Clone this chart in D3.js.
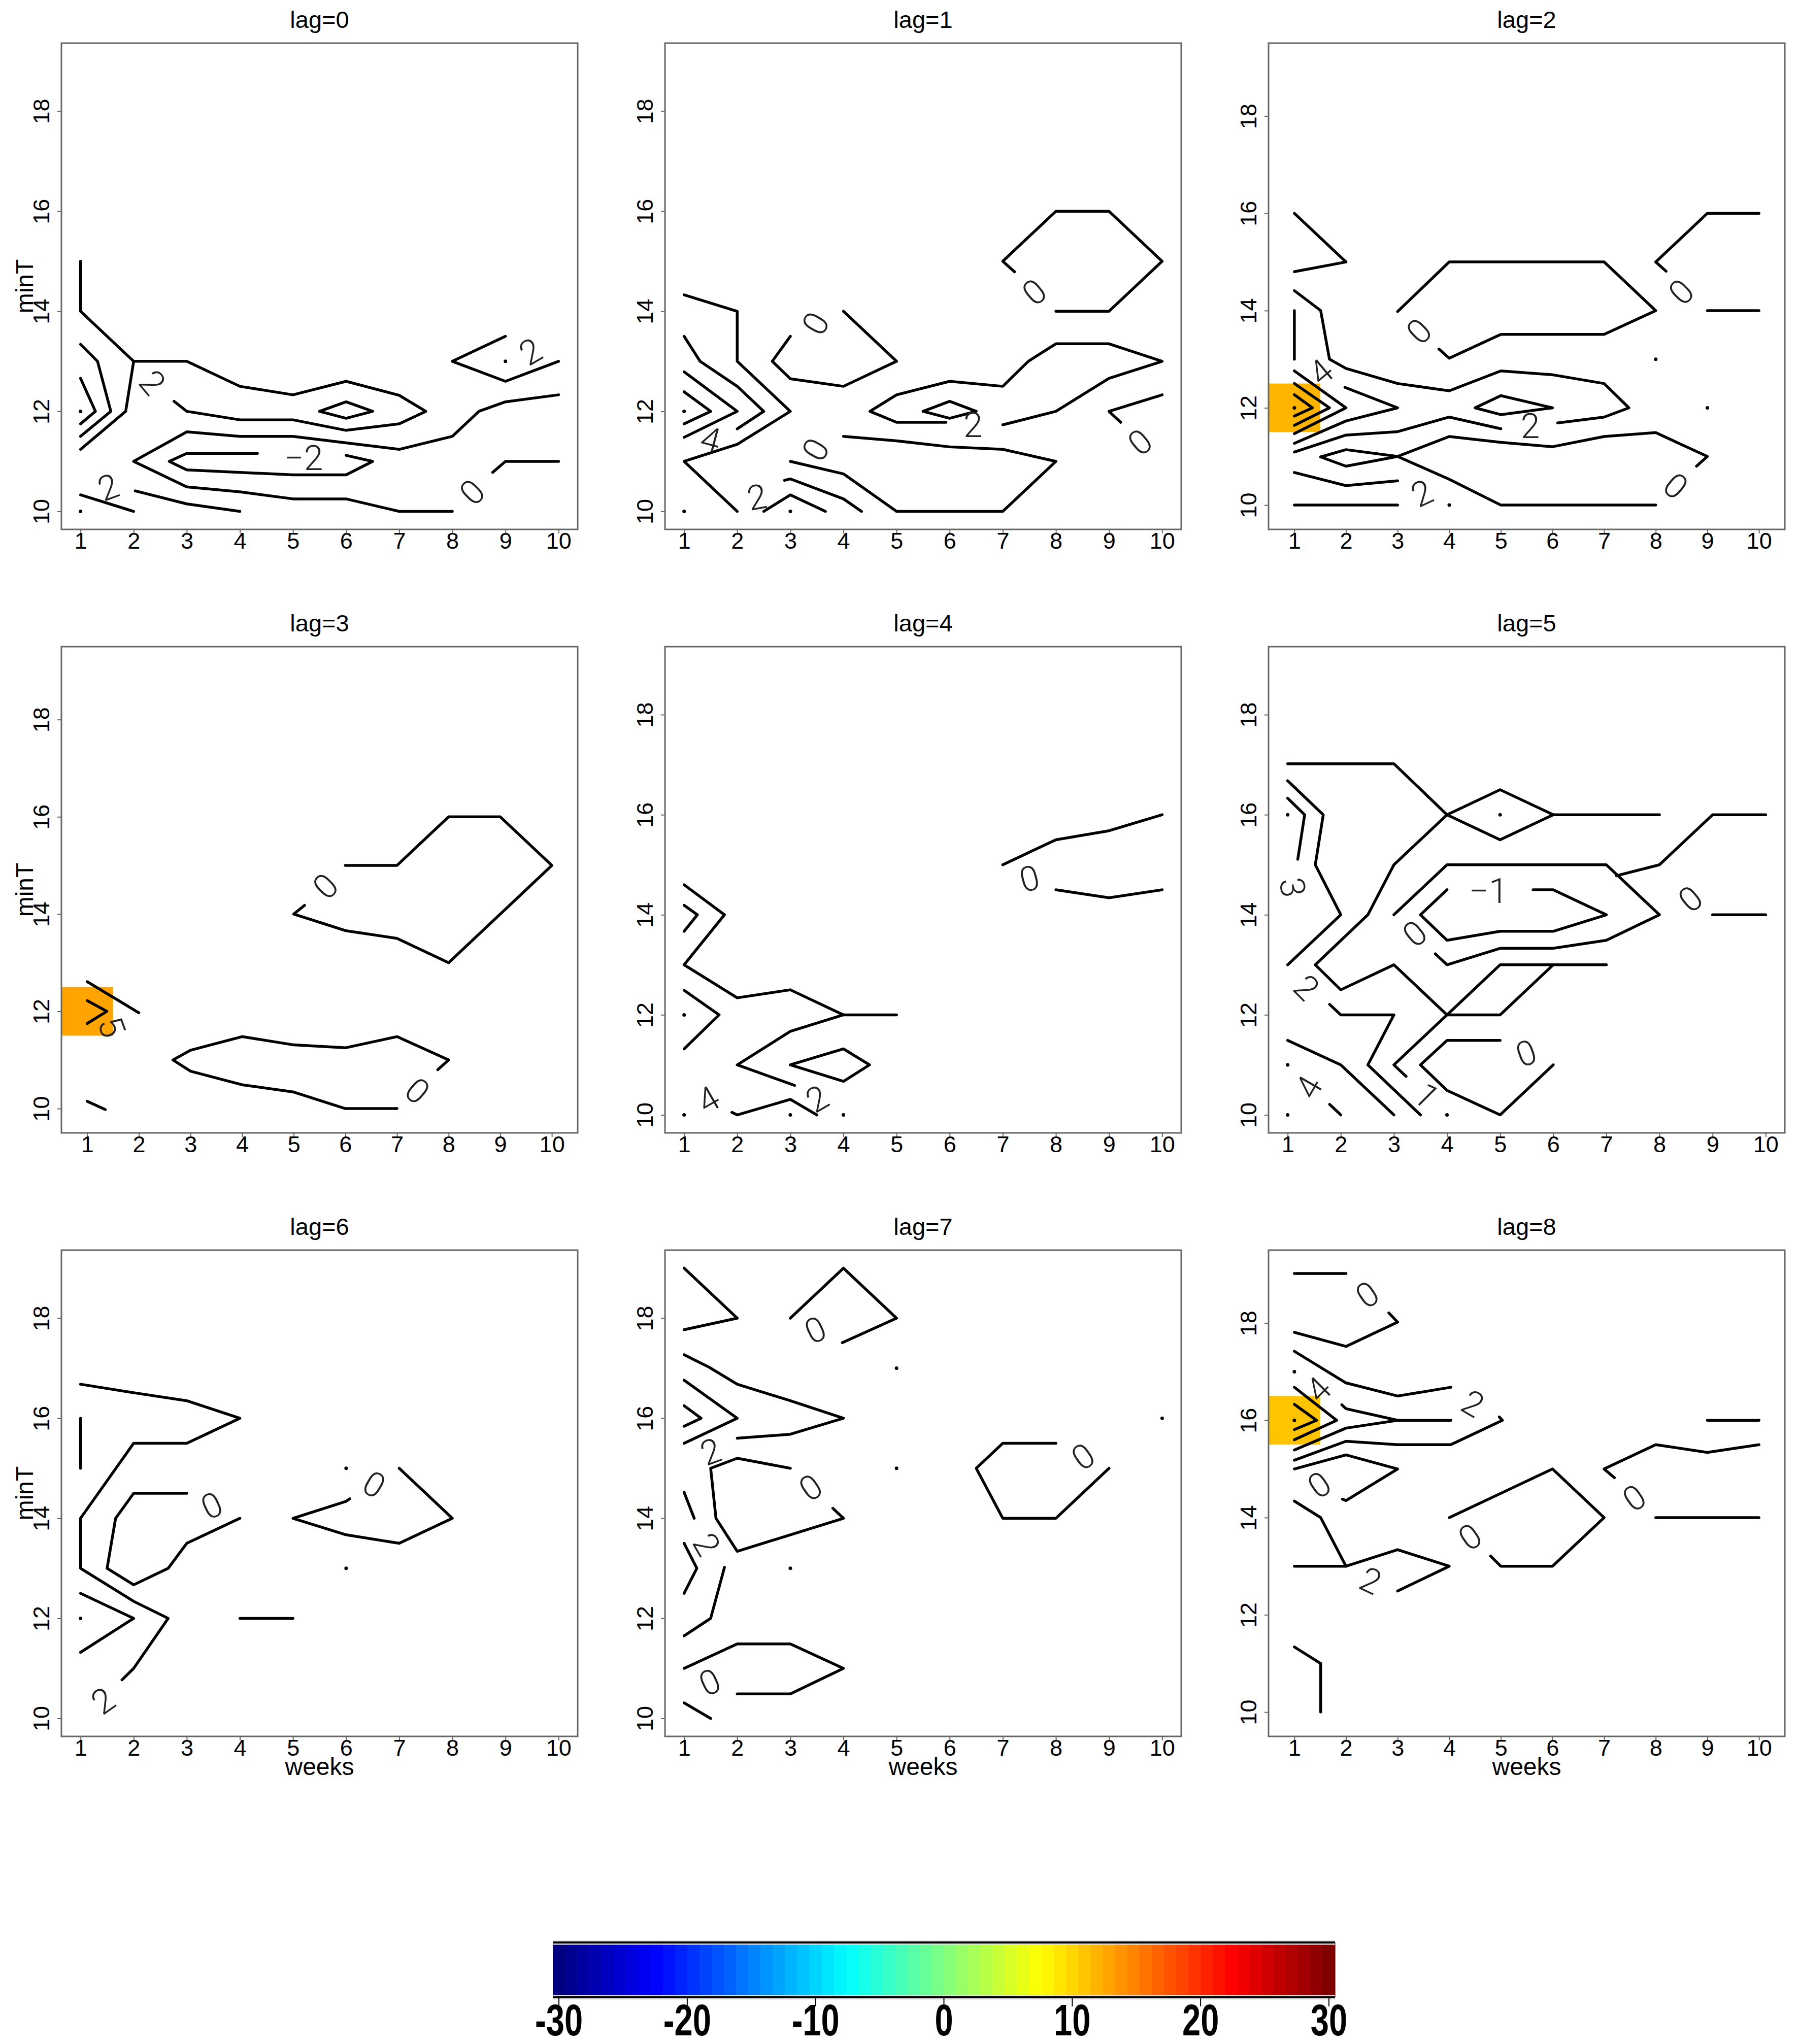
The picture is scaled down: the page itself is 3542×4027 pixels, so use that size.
<!DOCTYPE html>
<html>
<head>
<meta charset="utf-8">
<script src="https://cdn.jsdelivr.net/npm/d3@7"></script>
<style>
  body { margin: 0; background: #fff; }
  text { font-family: "Liberation Sans", Arial, Helvetica, sans-serif; }
</style>
</head>
<body>
<div id="chart"></div>
<script>
const W = 3542, H = 4027;

const lags = [0, 1, 2, 3, 4, 5, 6, 7, 8];
const weekTicks = [1, 2, 3, 4, 5, 6, 7, 8, 9, 10];
const minTTicks = [10, 12, 14, 16, 18];
const colorTicks = [-30, -20, -10, 0, 10, 20, 30];
const colorLimits = [-30, 30];
const nColors = 64;

// contour pieces per lag, points are [weeks, minT]
const lines0 = [
  [[1,15],[1,14],[2,13],[1.85,12],[1,11.24]],
  [[2,13],[3,13],[4,12.5],[5,12.33],[6,12.6],[7,12.32],[7.5,12],[7,11.75],[6,11.62],[5,11.83],[4,11.83],[3,12],[2.76,12.2]],
  [[5.5,12],[6,12.19],[6.5,12],[6,11.86],[5.5,12]],
  [[1,13.34],[1.32,13],[1.57,12],[1,11.5]],
  [[1,12.66],[1.28,12],[1,11.75]],
  [[10,12.33],[9,12.19],[8.5,12],[8,11.5],[7,11.24],[6,11.37],[5,11.5],[4,11.5],[3,11.59],[2,11],[3,10.49],[4,10.39],[5,10.25],[6,10.25],[7,10],[8,10]],
  [[4.33,11.16],[3,11.16],[2.67,11],[3,10.83],[5,10.73],[6,10.73],[6.5,11],[6,11.12]],
  [[9,13.5],[8,13],[9,12.6],[10,13]],
  [[8.76,10.78],[9,11],[10,11]],
  [[1,10.33],[2,10]],
  [[2.03,10.41],[3,10.15],[4,10]]
];
const dots0 = [[1,12],[1,10],[9,13]];
const labels0 = [[2.36,12.58,"2",50],[5.2,11.08,"−2",0],[9.47,13.2,"2",-30],[8.37,10.39,"0",-45],[1.52,10.49,"2",-20]];

const lines1 = [
  [[1,13.5],[1.3,13],[2,12.5],[2.5,12],[2,11.65]],
  [[1,12.79],[2,12],[1,11.48]],
  [[1,12.39],[1.5,12],[1,11.75]],
  [[1,14.33],[2,14],[2,13],[3,12],[2,11.34],[1,11],[2,10]],
  [[3,13.5],[2.66,13],[3,12.65],[4,12.5],[5,13],[4,14]],
  [[7.22,14.79],[7,15],[8,16],[9,16],[10,15],[9,14],[8,14]],
  [[5.93,11.78],[5,11.78],[4.5,12],[5,12.33],[6,12.6],[7,12.5],[7.48,13],[8,13.35],[9,13.35],[10,13],[9,12.66],[8,12],[7,11.73]],
  [[5.5,12],[6,12.2],[6.5,12],[6,11.86],[5.5,12]],
  [[10,12.33],[9,12],[9.22,11.78]],
  [[3,11],[4,10.75],[5,10],[7,10],[8,11],[7,11.24],[6,11.29],[5,11.41],[4,11.5]],
  [[2.89,10.62],[3,10.65],[4,10.25],[4.34,10]],
  [[2.5,10],[3,10.33],[3.66,10]]
];
const dots1 = [[1,12],[1,10],[3,10]];
const labels1 = [[7.59,14.39,"0",-40],[3.47,13.76,"0",-60],[6.44,11.73,"2",0],[9.58,11.39,"0",-40],[3.47,11.24,"0",-60],[2.37,10.29,"2",-10],[1.5,11.44,"4",15]];

const lines2 = [
  [[1,16],[2,15],[1,14.8]],
  [[1,14.41],[1.51,14],[1.68,13],[2,12.81],[3,12.5],[4,12.35],[5,12.76],[6,12.68],[7,12.5],[7.48,12],[7,11.81],[6.1,11.69]],
  [[1,11.09],[2,11.44],[3,11.51],[4,11.81],[5,11.57]],
  [[1,14],[1,13]],
  [[3,13.98],[4,15],[7,15],[8,14],[7,13.51],[5,13.51],[4,13.02],[3.8,13.21]],
  [[8.2,14.81],[8,15],[9,16],[10,16]],
  [[9,14],[10,14]],
  [[1,12.27],[1.35,12],[1,11.83]],
  [[1,12.5],[1.68,12],[1,11.64]],
  [[1,12.76],[2,12],[1,11.47]],
  [[1.98,12.42],[3,12],[2,11.73],[1,11.27]],
  [[4.5,12],[5,12.25],[6,12],[5,11.86],[4.5,12]],
  [[1.51,10.99],[2,11.14],[3,11],[4,11.41],[5,11.29],[6,11.2],[7,11.41],[8,11.49],[9,11],[8.79,10.8]],
  [[1.51,10.99],[2,10.8],[3,11],[4,10.53],[5,10],[8,10]],
  [[1,10.67],[2,10.4],[3,10.5]],
  [[1,10],[3,10]]
];
const dots2 = [[1,12],[4,10],[8,13],[9,12]];
const labels2 = [[3.41,13.58,"0",-45],[8.49,14.39,"0",-45],[5.57,11.63,"2",0],[1.51,12.74,"4",-40],[8.39,10.4,"0",40],[3.47,10.25,"2",-25]];
const cells2 = [[1,12,12]];

const lines3 = [
  [[6,15],[7,15],[8,16],[9,16],[10,15],[8,13],[7,13.5],[6,13.66],[5,14],[5.21,14.18]],
  [[1,12.61],[2,11.97]],
  [[1,12.22],[1.38,12],[1,11.75]],
  [[7.79,10.8],[8,11],[7,11.48],[6,11.25],[5,11.31],[4,11.48],[3,11.2],[2.66,11],[3,10.77],[4,10.49],[5,10.34],[6,10],[7,10]],
  [[1,10.15],[1.35,9.98]]
];
const dots3 = [];
const labels3 = [[5.61,14.58,"0",-45],[7.4,10.37,"0",40],[1.48,11.68,"5",70]];
const cells3 = [[1,12,13]];

const lines4 = [
  [[7,15],[8,15.5],[9,15.68],[10,16]],
  [[8,14.5],[9,14.34],[10,14.5]],
  [[1,14.6],[1.76,14],[1,13],[2,12.34],[3,12.5],[4,12],[5,12]],
  [[1,14.19],[1.25,14],[1,13.67]],
  [[1,12.49],[1.66,12],[1,11.32]],
  [[4,12],[3,11.67],[2,11],[3.08,10.59]],
  [[3,11],[4,11.32],[4.49,11],[4,10.67],[3,11]],
  [[1.9,10.05],[2,10],[3,10.31],[3.5,10]]
];
const dots4 = [[1,12],[1,10],[3,10],[4,10]];
const labels4 = [[7.5,14.73,"0",-15],[1.45,10.31,"4",-30],[3.5,10.33,"2",-30]];

const lines5 = [
  [[1,17.02],[3,17.02],[4,16],[5,16.5],[6,16],[8,16]],
  [[4,16],[5,15.5],[6,16]],
  [[4,16],[3,15],[2.51,14],[1.52,13],[2,12.5],[3,13],[4,12],[5,12],[6,13]],
  [[3.23,10.77],[3,11],[4,12],[5,13],[7,13]],
  [[1,16.68],[1.67,16],[1.52,15],[2,14],[1,13]],
  [[1,16.33],[1.32,16],[1.19,15.11]],
  [[1.79,12.21],[2,12],[3,12],[2.51,11],[3.5,10]],
  [[1,11.49],[2,11],[3,10]],
  [[1.79,10.21],[2,10]],
  [[5,11.49],[4,11.49],[3.5,11],[4,10.49],[5,10],[6,11]],
  [[3,14],[4,15],[7,15],[8,14],[7,13.49],[6,13.33],[5,13.33],[4,13],[3.78,13.22]],
  [[5.62,14.5],[6,14.5],[7,14],[6,13.67],[5,13.67],[4,13.49],[3.5,14],[4,14.5]],
  [[7.19,14.78],[8,15],[9,16],[10,16]],
  [[9,14],[10,14]]
];
const dots5 = [[1,16],[5,16],[1,11],[1,10],[4,10]];
const labels5 = [[1.1,14.55,"3",80],[1.36,12.55,"2",45],[1.39,10.56,"4",-60],[3.62,10.39,"1",45],[5.49,11.24,"0",-20],[3.39,13.63,"0",-40],[4.78,14.48,"−1",0],[8.58,14.32,"0",-40]];

const lines6 = [
  [[1,16.68],[2,16.51],[3,16.35],[4,16],[3,15.5],[2,15.5],[1,14],[1,13],[2,12.34],[2.65,12],[2,11],[1.78,10.77]],
  [[1,16],[1,15]],
  [[3,14.5],[2,14.5],[1.66,14],[1.5,13],[2,12.67],[2.65,13],[3,13.5],[4,14]],
  [[1,12.5],[2,12],[1,11.32]],
  [[4,12],[5,12]],
  [[6.07,14.39],[6,14.34],[5,14],[6,13.67],[7,13.5],[8,14],[7,15]]
];
const dots6 = [[1,12],[6,15],[6,13]];
const labels6 = [[1.42,10.36,"2",-35],[3.47,14.26,"0",-25],[6.53,14.68,"0",30]];

const lines7 = [
  [[1,19],[2,18],[1,17.77]],
  [[3,18],[4,19],[5,18],[3.98,17.51]],
  [[1,17.27],[1.47,17.02],[2,16.68],[3,16.35],[4,16],[3,15.68],[2,15.6]],
  [[1,16.76],[2,16],[1,15.5]],
  [[1,16.25],[1.32,16],[1,15.84]],
  [[3,15],[2,15.2],[1.5,15],[1.6,14],[2,13.34],[4,14],[3.8,14.2]],
  [[1,14.52],[1.19,14]],
  [[1,13.5],[1.24,13],[1,12.5]],
  [[1.76,13.02],[1.5,12],[1,11.65]],
  [[1,11],[2,11.49],[3,11.49],[4,11],[3,10.49],[2,10.49]],
  [[1,10.31],[1.5,10]],
  [[8,15.5],[7,15.5],[6.5,15],[7,14],[8,14],[9,15]]
];
const dots7 = [[5,17],[5,15],[3,13],[10,16]];
const labels7 = [[3.47,17.77,"0",-25],[1.5,15.34,"2",-20],[3.38,14.62,"0",-35],[1.43,13.48,"2",60],[1.48,10.73,"0",-25],[8.51,15.24,"0",-35]];

const lines8 = [
  [[1,19.02],[2,19.02]],
  [[2.83,18.21],[3,18.02],[2,17.52],[1,17.81]],
  [[1,17.42],[2,16.77],[3,16.5],[4.03,16.68]],
  [[1,16.68],[1.82,16],[1,15.6]],
  [[1,16.33],[1.43,16],[1,15.81]],
  [[1.92,16.32],[2,16.24],[3,16],[4.03,16]],
  [[3,16],[2,15.84],[1,15.39]],
  [[1,15.18],[2,15.57],[3,15.5],[4.03,15.5],[5.03,16],[4.97,16.07]],
  [[1,15],[2,15.29],[3,15],[2,14.35],[1.93,14.38]],
  [[1,14.34],[1.51,14],[2,13]],
  [[1,13],[2,13],[3,13.34],[4,13],[3,12.49]],
  [[4,14],[6,15],[7,14],[6,13],[5,13],[4.8,13.21]],
  [[7.2,14.82],[7,15],[8,15.5],[9,15.34],[10,15.5]],
  [[8,14],[10,14]],
  [[9,16],[10,16]],
  [[1,11.34],[1.51,11],[1.51,10]]
];
const dots8 = [[1,17],[1,16]];
const labels8 = [[2.41,18.59,"0",-35],[1.46,16.64,"4",-45],[4.46,16.35,"2",30],[1.48,14.68,"0",-35],[4.4,13.61,"0",-35],[7.58,14.41,"0",-35],[2.48,12.71,"2",25]];
const cells8 = [[1,16,10.5]];

const panelLines = [lines0, lines1, lines2, lines3, lines4, lines5, lines6, lines7, lines8];
const panelDots = [dots0, dots1, dots2, dots3, dots4, dots5, dots6, dots7, dots8];
const panelLabels = [labels0, labels1, labels2, labels3, labels4, labels5, labels6, labels7, labels8];
const panelCells = [[], [], cells2, cells3, [], [], [], [], cells8];

// layout
const colLeft = [121, 1310, 2499];
const rowTop = [85, 1274, 2463];
const pw = 1017, ph = 958;

// matlab-like jet palette
function jet(t) {
  const c = v => Math.max(0, Math.min(1, v));
  return d3.rgb(255 * c(1.5 - Math.abs(4 * t - 3)),
                255 * c(1.5 - Math.abs(4 * t - 2)),
                255 * c(1.5 - Math.abs(4 * t - 1))).formatHex();
}
const jetColors = d3.range(nColors).map(i => jet(i / (nColors - 1)));
const colorOf = v => {
  const i = Math.round((v - colorLimits[0]) / (colorLimits[1] - colorLimits[0]) * (nColors - 1));
  return jetColors[Math.max(0, Math.min(nColors - 1, i))];
};

const svg = d3.select("#chart").append("svg")
  .attr("width", W).attr("height", H)
  .style("background", "#fff");

lags.forEach((lag, i) => {
  const col = i % 3, row = Math.floor(i / 3);
  const cells = panelCells[i];
  const pad = cells.length ? 0.5 : 0.36;   // image() uses exact cell edges
  const x = d3.scaleLinear().domain([1 - pad, 10 + pad]).range([0, pw]);
  const y = d3.scaleLinear().domain([10 - pad, 19 + pad]).range([ph, 0]);

  const g = svg.append("g").attr("transform", `translate(${colLeft[col]},${rowTop[row]})`);

  g.append("clipPath").attr("id", "clip" + i)
    .append("rect").attr("width", pw).attr("height", ph);
  const plot = g.append("g").attr("clip-path", `url(#clip${i})`);

  plot.selectAll("rect.cell")
    .data(cells)
    .enter().append("rect")
    .attr("class", "cell")
    .attr("x", d => x(d[0] - 0.5))
    .attr("y", d => y(d[1] + 0.5))
    .attr("width", d => x(d[0] + 0.5) - x(d[0] - 0.5))
    .attr("height", d => y(d[1] - 0.5) - y(d[1] + 0.5))
    .attr("fill", d => colorOf(d[2]));

  const line = d3.line().x(d => x(d[0])).y(d => y(d[1]));
  plot.selectAll("path.contour")
    .data(panelLines[i])
    .enter().append("path")
    .attr("class", "contour")
    .attr("d", line)
    .attr("fill", "none")
    .attr("stroke", "#000")
    .attr("stroke-width", 5.5)
    .attr("stroke-linejoin", "round")
    .attr("stroke-linecap", "round");

  plot.selectAll("circle.dot")
    .data(panelDots[i])
    .enter().append("circle")
    .attr("class", "dot")
    .attr("cx", d => x(d[0]))
    .attr("cy", d => y(d[1]))
    .attr("r", 3.5)
    .attr("fill", "#000");

  plot.selectAll("text.lab")
    .data(panelLabels[i])
    .enter().append("text")
    .attr("class", "lab")
    .attr("transform", d => `translate(${x(d[0])},${y(d[1])}) rotate(${d[3]})`)
    .attr("text-anchor", "middle")
    .attr("dy", "0.36em")
    .style("font-family", "Roboto, 'Liberation Sans', sans-serif")
    .style("font-weight", 300)
    .style("font-size", "68px")
    .attr("fill", "#222")
    .text(d => d[2]);

  // box
  g.append("rect")
    .attr("width", pw).attr("height", ph)
    .attr("fill", "none")
    .attr("stroke", "#666")
    .attr("stroke-width", 3);

  // axes
  const xa = g.append("g").attr("transform", `translate(0,${ph})`)
    .call(d3.axisBottom(x).tickValues(weekTicks).tickSize(8).tickSizeOuter(0));
  xa.select(".domain").remove();
  xa.selectAll("line").attr("stroke", "#666").attr("stroke-width", 2);
  xa.selectAll("text")
    .attr("y", 6).attr("dy", "0.71em")
    .attr("fill", "#000")
    .style("font-size", "45px")
    .style("font-family", "'Liberation Sans', Arial, sans-serif");

  const ya = g.append("g")
    .call(d3.axisLeft(y).tickValues(minTTicks).tickSize(8).tickSizeOuter(0));
  ya.select(".domain").remove();
  ya.selectAll("line").attr("stroke", "#666").attr("stroke-width", 2);
  ya.selectAll("text")
    .attr("transform", "rotate(-90)")
    .attr("x", 0).attr("y", -24).attr("dy", 0)
    .attr("text-anchor", "middle")
    .attr("fill", "#000")
    .style("font-size", "45px")
    .style("font-family", "'Liberation Sans', Arial, sans-serif");

  g.append("text")
    .attr("x", pw / 2).attr("y", -30)
    .attr("text-anchor", "middle")
    .style("font-size", "47px")
    .text(`lag=${lag}`);

  if (col === 0) {
    g.append("text")
      .attr("transform", `translate(-56,${ph / 2}) rotate(-90)`)
      .attr("text-anchor", "middle")
      .style("font-size", "48px")
      .text("minT");
  }
  if (row === 2) {
    g.append("text")
      .attr("x", pw / 2).attr("y", ph + 76)
      .attr("text-anchor", "middle")
      .style("font-size", "48px")
      .text("weeks");
  }
});

// colour bar
const half = (colorLimits[1] - colorLimits[0]) / (nColors - 1) / 2;
const cb = { left: 1089, right: 2630, top: 3827, bottom: 3935 };
const cx = d3.scaleLinear()
  .domain([colorLimits[0] - half, colorLimits[1] + half])
  .range([cb.left, cb.right]);
const bandVals = d3.range(nColors).map(i => colorLimits[0] + i * 2 * half);
const bar = svg.append("g");
bar.selectAll("rect")
  .data(bandVals)
  .enter().append("rect")
  .attr("x", d => cx(d - half))
  .attr("y", cb.top)
  .attr("width", d => cx(d + half) - cx(d - half) + 0.6)
  .attr("height", cb.bottom - cb.top)
  .attr("fill", (d, i) => jetColors[i]);
[cb.top, cb.bottom].forEach(yy => {
  bar.append("line")
    .attr("x1", cb.left).attr("x2", cb.right)
    .attr("y1", yy).attr("y2", yy)
    .attr("stroke", "#e2e2e2").attr("stroke-width", 9);
  bar.append("line")
    .attr("x1", cb.left).attr("x2", cb.right)
    .attr("y1", yy).attr("y2", yy)
    .attr("stroke", "#000").attr("stroke-width", 4);
});
bar.selectAll("line.tk")
  .data(colorTicks)
  .enter().append("line")
  .attr("class", "tk")
  .attr("x1", d => cx(d)).attr("x2", d => cx(d))
  .attr("y1", cb.bottom).attr("y2", cb.bottom + 18)
  .attr("stroke", "#000").attr("stroke-width", 2);
bar.selectAll("text")
  .data(colorTicks)
  .enter().append("text")
  .attr("transform", d => `translate(${cx(d)},4010) scale(0.74,1)`)
  .attr("text-anchor", "middle")
  .style("font-size", "88px")
  .style("font-weight", "bold")
  .attr("fill", "#000")
  .text(d => d);
</script>
</body>
</html>
